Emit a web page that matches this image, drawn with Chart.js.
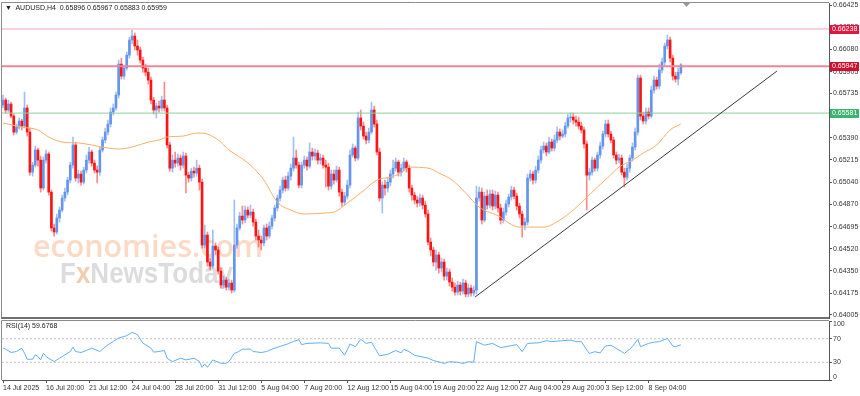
<!DOCTYPE html>
<html><head><meta charset="utf-8">
<script src="https://cdn.jsdelivr.net/npm/chart.js@4.4.0/dist/chart.umd.min.js"></script>
<style>
html,body{margin:0;padding:0;background:#fff;}
#wrap{position:relative;width:860px;height:396px;overflow:hidden;background:#fff;font-family:"Liberation Sans",Arial,sans-serif;}
#main{position:absolute;left:0;top:0;width:860px;height:320px;}
#rsi{position:absolute;left:0;top:320px;width:860px;height:76px;}
.lbl{position:absolute;font-size:7px;line-height:8px;color:#222;white-space:nowrap;}
</style></head><body>
<div id="wrap">
<canvas id="main" width="860" height="320"></canvas>
<canvas id="rsi" width="860" height="76"></canvas>
<div class="lbl" style="left:5px;top:4px;">&#9660;&nbsp; AUDUSD,H4&nbsp; 0.65896 0.65967 0.65883 0.65959</div>
<div class="lbl" style="left:6px;top:322px;">RSI(14) 59.6768</div>
</div>
<script>
// ---- data (AUDUSD H4, bar index 0 = 14 Jul 2025 04:00) ----
const opens=[
0.65644,0.65683,0.65605,0.65652,0.65558,0.65433,0.65472,0.65519,0.65480,0.65621,
0.65433,0.65120,0.65175,0.65293,0.65214,0.64996,0.65214,0.65262,0.64964,0.64684,
0.64652,0.64762,0.64824,0.64918,0.64964,0.65058,0.65175,0.65332,0.65074,0.65105,
0.65042,0.65136,0.65214,0.65277,0.65191,0.65136,0.65120,0.65293,0.65371,0.65433,
0.65496,0.65589,0.65621,0.65722,0.65964,0.65870,0.65933,0.66034,0.66152,0.66183,
0.66105,0.66074,0.65995,0.65933,0.65901,0.65839,0.65683,0.65605,0.65636,0.65621,
0.65683,0.65621,0.65332,0.65151,0.65214,0.65191,0.65230,0.65175,0.65246,0.65097,
0.65074,0.65128,0.65113,0.65151,0.65042,0.64551,0.64629,0.64418,0.64386,0.64543,
0.64512,0.64347,0.64238,0.64277,0.64222,0.64254,0.64199,0.64551,0.64684,0.64777,
0.64746,0.64824,0.64785,0.64808,0.64730,0.64621,0.64590,0.64567,0.64684,0.64621,
0.64699,0.64762,0.64840,0.64918,0.64980,0.65058,0.64996,0.65089,0.65151,0.65230,
0.65175,0.65019,0.65175,0.65214,0.65167,0.65277,0.65246,0.65269,0.65214,0.65230,
0.65175,0.65159,0.65011,0.65105,0.65058,0.65136,0.64964,0.64886,0.64933,0.65019,
0.65254,0.65308,0.65230,0.65543,0.65480,0.65402,0.65371,0.65433,0.65605,0.65496,
0.65277,0.64918,0.65019,0.64996,0.65042,0.65105,0.65151,0.65199,0.65120,0.65151,
0.65199,0.65151,0.64996,0.64941,0.64902,0.64879,0.64918,0.64863,0.64793,0.64574,
0.64512,0.64418,0.64473,0.64371,0.64418,0.64308,0.64340,0.64261,0.64222,0.64183,
0.64238,0.64191,0.64254,0.64168,0.64215,0.64176,0.64199,0.64918,0.64964,0.64746,
0.64933,0.64863,0.64949,0.64855,0.64941,0.64840,0.64746,0.64808,0.64871,0.64926,
0.64980,0.64933,0.64855,0.64793,0.64707,0.64730,0.65074,0.65105,0.65058,0.65136,
0.65214,0.65293,0.65324,0.65277,0.65355,0.65308,0.65371,0.65433,0.65402,0.65418,
0.65480,0.65543,0.65550,0.65527,0.65511,0.65480,0.65449,0.65340,0.65097,0.65120,
0.65214,0.65151,0.65254,0.65324,0.65418,0.65496,0.65418,0.65371,0.65254,0.65214,
0.65230,0.65120,0.65081,0.65151,0.65230,0.65316,0.65433,0.65855,0.65558,0.65519,
0.65589,0.65558,0.65761,0.65839,0.65792,0.65917,0.65980,0.66105,0.66152,0.66011,
0.65870,0.65847,0.65896];
const closes=[
0.65683,0.65605,0.65652,0.65558,0.65433,0.65472,0.65519,0.65480,0.65621,0.65433,
0.65120,0.65175,0.65293,0.65214,0.64996,0.65214,0.65262,0.64964,0.64684,0.64652,
0.64762,0.64824,0.64918,0.64964,0.65058,0.65175,0.65332,0.65074,0.65105,0.65042,
0.65136,0.65214,0.65277,0.65191,0.65136,0.65120,0.65293,0.65371,0.65433,0.65496,
0.65589,0.65621,0.65722,0.65964,0.65870,0.65933,0.66034,0.66152,0.66183,0.66105,
0.66074,0.65995,0.65933,0.65901,0.65839,0.65683,0.65605,0.65636,0.65621,0.65683,
0.65621,0.65332,0.65151,0.65214,0.65191,0.65230,0.65175,0.65246,0.65097,0.65074,
0.65128,0.65113,0.65151,0.65042,0.64551,0.64629,0.64418,0.64386,0.64543,0.64512,
0.64347,0.64238,0.64277,0.64222,0.64254,0.64199,0.64551,0.64684,0.64777,0.64746,
0.64824,0.64785,0.64808,0.64730,0.64621,0.64590,0.64567,0.64684,0.64621,0.64699,
0.64762,0.64840,0.64918,0.64980,0.65058,0.64996,0.65089,0.65151,0.65230,0.65175,
0.65019,0.65175,0.65214,0.65167,0.65277,0.65246,0.65269,0.65214,0.65230,0.65175,
0.65159,0.65011,0.65105,0.65058,0.65136,0.64964,0.64886,0.64933,0.65019,0.65254,
0.65308,0.65230,0.65543,0.65480,0.65402,0.65371,0.65433,0.65605,0.65496,0.65277,
0.64918,0.65019,0.64996,0.65042,0.65105,0.65151,0.65199,0.65120,0.65151,0.65199,
0.65151,0.64996,0.64941,0.64902,0.64879,0.64918,0.64863,0.64793,0.64574,0.64512,
0.64418,0.64473,0.64371,0.64418,0.64308,0.64340,0.64261,0.64222,0.64183,0.64238,
0.64191,0.64254,0.64168,0.64215,0.64176,0.64199,0.64918,0.64964,0.64746,0.64933,
0.64863,0.64949,0.64855,0.64941,0.64840,0.64746,0.64808,0.64871,0.64926,0.64980,
0.64933,0.64855,0.64793,0.64707,0.64730,0.65074,0.65105,0.65058,0.65136,0.65214,
0.65293,0.65324,0.65277,0.65355,0.65308,0.65371,0.65433,0.65402,0.65418,0.65480,
0.65543,0.65550,0.65527,0.65511,0.65480,0.65449,0.65340,0.65097,0.65120,0.65214,
0.65151,0.65254,0.65324,0.65418,0.65496,0.65418,0.65371,0.65254,0.65214,0.65230,
0.65120,0.65081,0.65151,0.65230,0.65316,0.65433,0.65855,0.65558,0.65519,0.65589,
0.65558,0.65761,0.65839,0.65792,0.65917,0.65980,0.66105,0.66152,0.66011,0.65870,
0.65847,0.65901,0.65959];
const highs=[
0.65722,0.65699,0.65683,0.65667,0.65574,0.65496,0.65543,0.65535,0.65745,0.65644,
0.65464,0.65198,0.65324,0.65308,0.65246,0.65238,0.65293,0.65277,0.64980,0.64715,
0.64793,0.64848,0.64941,0.64996,0.65081,0.65198,0.65394,0.65355,0.65136,0.65128,
0.65159,0.65254,0.65316,0.65293,0.65214,0.65167,0.65316,0.65394,0.65464,0.65527,
0.65621,0.65652,0.65745,0.65995,0.66011,0.65956,0.66058,0.66175,0.66230,0.66207,
0.66152,0.66097,0.66019,0.65964,0.65933,0.65862,0.65706,0.65660,0.65675,0.65714,
0.65823,0.65644,0.65355,0.65254,0.65277,0.65262,0.65254,0.65277,0.65269,0.65120,
0.65151,0.65159,0.65214,0.65175,0.65066,0.64707,0.64652,0.64449,0.64668,0.64567,
0.64535,0.64371,0.64308,0.64300,0.64285,0.64277,0.64902,0.64715,0.64808,0.64855,
0.64855,0.64848,0.64863,0.64832,0.64754,0.64668,0.64621,0.64707,0.64715,0.64730,
0.64785,0.64863,0.64941,0.65011,0.65081,0.65089,0.65120,0.65183,0.65394,0.65293,
0.65198,0.65198,0.65246,0.65238,0.65348,0.65308,0.65301,0.65293,0.65262,0.65254,
0.65214,0.65191,0.65136,0.65136,0.65167,0.65159,0.64988,0.64964,0.65058,0.65293,
0.65340,0.65324,0.65589,0.65605,0.65511,0.65433,0.65464,0.65667,0.65636,0.65527,
0.65308,0.65042,0.65058,0.65074,0.65136,0.65214,0.65230,0.65214,0.65183,0.65230,
0.65214,0.65175,0.65019,0.64964,0.64933,0.64949,0.64941,0.64894,0.64824,0.64605,
0.64535,0.64512,0.64496,0.64449,0.64441,0.64371,0.64363,0.64293,0.64254,0.64269,
0.64261,0.64285,0.64277,0.64246,0.64238,0.64230,0.65011,0.65003,0.64996,0.64964,
0.64980,0.64980,0.64980,0.64972,0.64964,0.64871,0.64840,0.64902,0.64949,0.65011,
0.65003,0.64957,0.64879,0.64816,0.64762,0.65105,0.65136,0.65128,0.65167,0.65246,
0.65324,0.65355,0.65348,0.65394,0.65379,0.65410,0.65472,0.65457,0.65449,0.65511,
0.65574,0.65582,0.65582,0.65558,0.65550,0.65511,0.65472,0.65363,0.65151,0.65238,
0.65230,0.65277,0.65355,0.65441,0.65527,0.65527,0.65441,0.65394,0.65277,0.65262,
0.65254,0.65151,0.65183,0.65254,0.65348,0.65464,0.65878,0.65878,0.65589,0.65621,
0.65621,0.65792,0.65870,0.65862,0.65964,0.66011,0.66128,0.66191,0.66175,0.66034,
0.65901,0.65933,0.65967];
const lows=[
0.65621,0.65582,0.65589,0.65543,0.65410,0.65418,0.65456,0.65449,0.65464,0.65402,
0.65097,0.65089,0.65159,0.65167,0.64964,0.64980,0.65191,0.64941,0.64660,0.64621,
0.64637,0.64730,0.64808,0.64894,0.64941,0.65035,0.65151,0.65050,0.65035,0.65019,
0.65027,0.65113,0.65191,0.65167,0.65113,0.65035,0.65097,0.65277,0.65348,0.65410,
0.65472,0.65566,0.65605,0.65699,0.65847,0.65847,0.65917,0.66011,0.66121,0.66074,
0.66034,0.65972,0.65901,0.65870,0.65808,0.65652,0.65574,0.65543,0.65589,0.65597,
0.65597,0.65308,0.65128,0.65120,0.65159,0.65167,0.65136,0.65151,0.64957,0.65042,
0.65050,0.65081,0.65089,0.64980,0.64527,0.64527,0.64386,0.64355,0.64371,0.64473,
0.64324,0.64215,0.64215,0.64199,0.64199,0.64176,0.64183,0.64527,0.64668,0.64715,
0.64723,0.64762,0.64762,0.64699,0.64590,0.64535,0.64512,0.64543,0.64590,0.64605,
0.64676,0.64738,0.64816,0.64894,0.64957,0.64972,0.64980,0.65058,0.65128,0.65151,
0.64996,0.64996,0.65151,0.65136,0.65151,0.65214,0.65214,0.65183,0.65183,0.65151,
0.65004,0.64980,0.64988,0.65027,0.65042,0.64933,0.64855,0.64863,0.64910,0.64996,
0.65238,0.65206,0.65214,0.65449,0.65379,0.65340,0.65348,0.65418,0.65472,0.65254,
0.64894,0.64800,0.64941,0.64964,0.65011,0.65074,0.65128,0.65089,0.65089,0.65128,
0.65120,0.64964,0.64902,0.64871,0.64847,0.64855,0.64832,0.64769,0.64551,0.64465,
0.64386,0.64355,0.64332,0.64340,0.64277,0.64277,0.64230,0.64191,0.64160,0.64160,
0.64160,0.64168,0.64145,0.64145,0.64152,0.64152,0.64168,0.64894,0.64715,0.64730,
0.64832,0.64840,0.64824,0.64832,0.64808,0.64715,0.64723,0.64785,0.64847,0.64902,
0.64910,0.64824,0.64762,0.64613,0.64668,0.64707,0.65050,0.65027,0.65035,0.65113,
0.65191,0.65269,0.65246,0.65262,0.65285,0.65285,0.65348,0.65371,0.65386,0.65394,
0.65464,0.65511,0.65496,0.65480,0.65456,0.65425,0.65308,0.64824,0.65058,0.65097,
0.65128,0.65128,0.65230,0.65301,0.65394,0.65394,0.65348,0.65230,0.65183,0.65191,
0.65097,0.65004,0.65058,0.65120,0.65206,0.65293,0.65410,0.65527,0.65496,0.65496,
0.65535,0.65543,0.65737,0.65769,0.65769,0.65894,0.65956,0.66082,0.65980,0.65839,
0.65823,0.65800,0.65883];
// moving average (orange), read at these bar indexes
const maX=[0,7,13,17,22,28,33,39,43,48,54,58,61,67,72,74,80,84,88,92,97,102,107,112,119,123,128,133,139,144,148,151,158,162,167,172,177,185,188,192,201,207,212,216,221,225,229,234,238,243,248,252];
const maV=[0.65504,0.65472,0.65449,0.65394,0.65355,0.65348,0.65332,0.65308,0.65301,0.65316,0.65355,0.65371,0.65394,0.65402,0.65425,0.65425,0.65371,0.65293,0.65238,0.65175,0.65058,0.64886,0.64824,0.64793,0.64800,0.64808,0.64879,0.64957,0.65058,0.65081,0.65113,0.65159,0.65152,0.65113,0.65058,0.64957,0.64847,0.64769,0.64723,0.64691,0.64691,0.64746,0.64824,0.64902,0.65004,0.65081,0.65159,0.65214,0.65269,0.65332,0.65449,0.65496];
// RSI(14), read at these bar indexes
const rsiX=[0,1,3,5,7,8,9,11,12,13,14,15,16,17,19,21,23,25,26,27,29,31,33,36,39,41,43,46,48,50,52,55,56,58,60,61,63,66,68,71,73,74,75,76,78,81,83,84,86,87,89,92,93,96,98,100,103,106,108,110,111,113,118,121,122,125,127,129,131,133,135,137,138,140,143,146,148,149,151,153,155,158,160,163,164,166,169,171,173,175,176,179,182,185,187,191,193,195,199,202,204,208,211,213,215,217,218,220,222,224,226,230,231,234,236,237,240,242,244,247,249,250,252];
const rsiV=[54,52.3,46.6,48.3,54,45.4,35.2,35.2,42.6,39.7,34,45.4,39.7,36.9,31.2,36.9,42.6,48.3,55.7,48.3,46.6,50,54,48.3,59.7,65.4,71.1,75.1,80.8,76.9,62.6,54,47.2,48.3,50,36.9,31.2,36.9,34,36.9,31.2,21.5,27.2,21.5,34,28.3,28.3,31.2,45.4,46.6,52.3,52.3,48.3,46.6,48.3,52.3,56.9,61.4,65.4,68.3,60,62,63,62,54,54,42,61,56.5,69,62,64,56,41,43.5,50,46,52,48,42,40,37,33,29.5,28,31,30,28,31,30,65,59,62,55,56.5,60,48,62,63,66.6,65,66.6,67.7,65,65,51,45,48,46,57.6,59,48,45,56.5,69,56.5,62,64,65,70.6,57.6,56.5,59.68];
const priceTicks=[0.66425,0.66250,0.66080,0.65905,0.65735,0.65560,0.65390,0.65215,0.65040,0.64870,0.64695,0.64520,0.64350,0.64175,0.64005];
const rsiTicks=[0,30,70,100];
const rsiLevels=[70,30];
const tickIdx=[0,16,32,48,64,80,96,112,128,144,160,176,192,208,224,240];
const tickLabels=['14 Jul 2025','16 Jul 20:00','21 Jul 12:00','24 Jul 04:00','28 Jul 20:00','31 Jul 12:00','5 Aug 04:00','7 Aug 20:00','12 Aug 12:00','15 Aug 04:00','19 Aug 20:00','22 Aug 12:00','27 Aug 04:00','29 Aug 20:00','3 Sep 12:00','8 Sep 04:00'];
const levelVals=[0.66238,0.65947,0.65581];
const trendX=[175.5,287.7];
const trendY=[0.64145,0.65909];

// ---- view settings ----
const X_MIN=-0.372, X_MAX=307.07, Y_MIN=0.63981, Y_MAX=0.66441;
const UP='#6495ED', DN='#FF1414', UPW='rgba(100,149,237,0.6)', DNW='rgba(255,40,40,0.55)';
const levelStyle=[{c:'#F5A3B2',w:1,box:'#E0173E'},{c:'#EE8797',w:2,box:'#D0102F'},{c:'#8ACF9A',w:1,box:'#3CB371'}];
Chart.defaults.font.family='"Liberation Sans", Arial, sans-serif';
Chart.defaults.font.size=7;

const isUp=opens.map((o,i)=>closes[i]>=o);
const bodyData=opens.map((o,i)=>({x:i,y:[o,closes[i]]}));
const wickData=opens.map((o,i)=>({x:i,y:[lows[i],highs[i]]}));

const mainDeco={
  id:'mainDeco',
  beforeDatasetsDraw(c){
    const ctx=c.ctx; ctx.save();
    ctx.textBaseline='alphabetic';
    ctx.font='600 32px "Open Sans"';
    let w=ctx.measureText('economies.com').width;
    ctx.font='600 '+(32*230/w).toFixed(2)+'px "Open Sans"';
    ctx.fillStyle='#FCD9C4';
    ctx.fillText('economies.com',33,257);
    ctx.font='bold 29px "Liberation Sans"';
    const w1=ctx.measureText('FxNewsToday').width;
    const sx=173/w1;
    ctx.translate(60,283); ctx.scale(sx,1);
    ctx.fillStyle='#DCDCDC';
    ctx.fillText('F',0,0);
    const fw=ctx.measureText('F').width;
    ctx.fillStyle='#F2CDB0';
    ctx.fillText('x',fw,0);
    const xw=ctx.measureText('x').width;
    ctx.fillStyle='#DCDCDC';
    ctx.fillText('NewsToday',fw+xw,0);
    ctx.restore();
  },
  afterDraw(c){
    const ctx=c.ctx, a=c.chartArea; ctx.save();
    ctx.strokeStyle='#8c8c8c'; ctx.lineWidth=1;
    ctx.beginPath(); ctx.moveTo(1.5,a.bottom); ctx.lineTo(1.5,2.5); ctx.lineTo(a.right,2.5); ctx.stroke();
    ctx.fillStyle='#707070'; ctx.fillRect(1,317,a.right-1,2);
    // chart shift marker
    ctx.fillStyle='#9a9a9a'; ctx.beginPath(); ctx.moveTo(683,3); ctx.lineTo(690,3); ctx.lineTo(686.5,7); ctx.closePath(); ctx.fill();
    // level price boxes
    ctx.font='7px "Liberation Sans"'; ctx.textBaseline='middle';
    levelVals.forEach((v,k)=>{
      const y=c.scales.y.getPixelForValue(v);
      ctx.fillStyle=levelStyle[k].box; ctx.fillRect(830,Math.round(y)-4,29,9);
      ctx.fillStyle='#fff'; ctx.fillText(v.toFixed(5),832,Math.round(y)+0.5);
    });
    ctx.restore();
  }
};

new Chart(document.getElementById('main'),{
  type:'bar',
  data:{datasets:[
    {data:wickData,backgroundColor:isUp.map(u=>u?UPW:DNW),borderWidth:0,barThickness:1,grouped:false,order:5},
    {data:bodyData,backgroundColor:isUp.map(u=>u?UP:DN),borderWidth:0,barThickness:2,grouped:false,minBarLength:1,order:4},
    {type:'line',data:maX.map((x,k)=>({x,y:maV[k]})),borderColor:'#F7AE66',borderWidth:1,pointRadius:0,cubicInterpolationMode:'monotone',order:3},
    ...levelVals.map((v,k)=>({type:'line',data:[{x:X_MIN,y:v},{x:X_MAX,y:v}],borderColor:levelStyle[k].c,borderWidth:levelStyle[k].w,pointRadius:0,order:2})),
    {type:'line',data:trendX.map((x,k)=>({x,y:trendY[k]})),borderColor:'#3a3a3a',borderWidth:1,pointRadius:0,order:1}
  ]},
  options:{
    responsive:false,animation:false,
    layout:{padding:{left:2,top:3,right:0,bottom:2}},
    plugins:{legend:{display:false},tooltip:{enabled:false}},
    scales:{
      x:{type:'linear',display:false,min:X_MIN,max:X_MAX,offset:false,grid:{offset:false}},
      y:{position:'right',min:Y_MIN,max:Y_MAX,
        afterFit(s){s.width=31;s.paddingTop=0;s.paddingBottom=0;},
        afterBuildTicks(s){s.ticks=priceTicks.map(v=>({value:v}));},
        ticks:{autoSkip:false,color:'#333',padding:1,callback:v=>v.toFixed(5)},
        grid:{drawOnChartArea:false,tickLength:3,color:'#555'},
        border:{color:'#555'}}
    }
  },
  plugins:[mainDeco]
});

const rsiDeco={
  id:'rsiDeco',
  afterDraw(c){
    const ctx=c.ctx,a=c.chartArea,ys=c.scales.y; ctx.save();
    ctx.strokeStyle='#8c8c8c'; ctx.lineWidth=1;
    ctx.beginPath(); ctx.moveTo(1.5,a.bottom); ctx.lineTo(1.5,0.5); ctx.lineTo(a.right,0.5); ctx.stroke();
    // edge labels (100 / 0) placed inside the panel like the terminal does
    ctx.font='7px "Liberation Sans"'; ctx.fillStyle='#333'; ctx.textBaseline='middle';
    ctx.fillText(String(rsiTicks[3]),a.right+4,ys.getPixelForValue(rsiTicks[3])+3.5);
    ctx.fillText(String(rsiTicks[0]),a.right+4,ys.getPixelForValue(rsiTicks[0])-3);
    ctx.restore();
  }
};

new Chart(document.getElementById('rsi'),{
  type:'line',
  data:{datasets:[
    {data:rsiX.map((x,k)=>({x,y:rsiV[k]})),borderColor:'#62AEF7',borderWidth:1,pointRadius:0,tension:0,order:0},
    ...rsiLevels.map(v=>({data:[{x:X_MIN,y:v},{x:X_MAX,y:v}],borderColor:'#c4c4c4',borderWidth:1,borderDash:[2,2],pointRadius:0,order:1}))
  ]},
  options:{
    responsive:false,animation:false,
    layout:{padding:{left:2,top:1,right:0,bottom:0}},
    plugins:{legend:{display:false},tooltip:{enabled:false}},
    scales:{
      x:{type:'linear',min:X_MIN,max:X_MAX,offset:false,
        afterFit(s){s.height=16;s.paddingLeft=0;s.paddingRight=0;},
        afterBuildTicks(s){s.ticks=tickIdx.map(v=>({value:v}));},
        ticks:{autoSkip:false,maxRotation:0,minRotation:0,align:'start',padding:1,color:'#333',callback:(v,i)=>tickLabels[i]},
        grid:{drawOnChartArea:false,tickLength:3,color:'#555'},
        border:{color:'#555'}},
      y:{position:'right',min:0,max:100,
        afterFit(s){s.width=31;s.paddingTop=0;s.paddingBottom=0;},
        afterBuildTicks(s){s.ticks=rsiTicks.map(v=>({value:v}));},
        ticks:{autoSkip:false,color:'#333',padding:1,callback:v=>(v===0||v===100)?'':String(v)},
        grid:{drawOnChartArea:false,tickLength:3,color:'#555'},
        border:{color:'#555'}}
    }
  },
  plugins:[rsiDeco]
});
</script>
</body></html>
